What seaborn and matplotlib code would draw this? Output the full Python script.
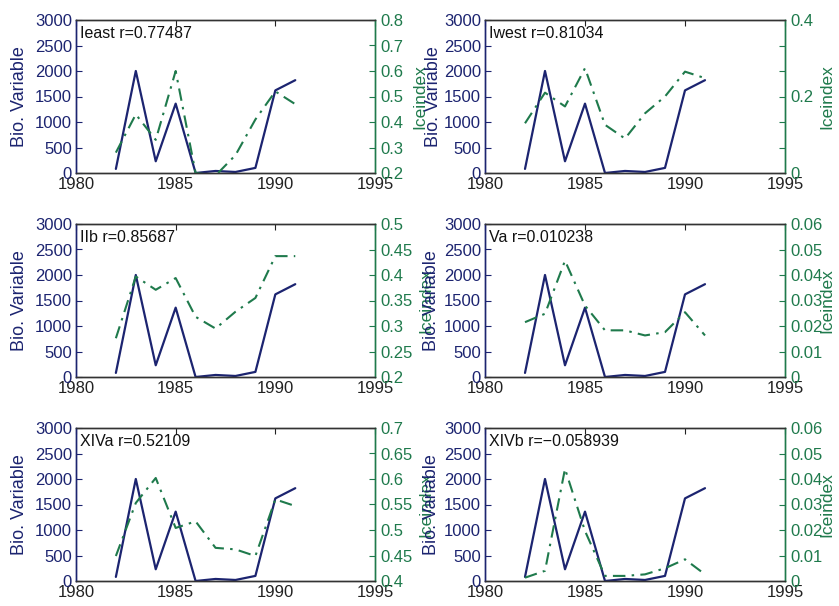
# plot.py
# Six plotyy-style panels: Bio. Variable (left axis) vs Iceindex (right axis)
import matplotlib
matplotlib.use('Agg')  # no display
import matplotlib.pyplot as plt
import seaborn as sns

# ── Data ──────────────────────────────────────────────────────
YEARS = [1982, 1983, 1984, 1985, 1986, 1987, 1988, 1989, 1990, 1991]
BIO = [80, 2000, 230, 1360, 0, 40, 20, 100, 1620, 1820]

ICE_IEAST = [0.28, 0.43, 0.33, 0.60, 0.20, 0.19, 0.27, 0.41, 0.52, 0.47]
ICE_IWEST = [0.13, 0.21, 0.174, 0.274, 0.126, 0.09, 0.156, 0.20, 0.265, 0.248]
ICE_IIB = [0.276, 0.397, 0.371, 0.394, 0.318, 0.295, 0.328, 0.355, 0.437, 0.437]
ICE_VA = [0.0215, 0.0248, 0.0456, 0.028, 0.0183, 0.0183, 0.0163, 0.0176, 0.0254, 0.0163]
ICE_XIVA = [0.449, 0.553, 0.602, 0.504, 0.517, 0.465, 0.462, 0.449, 0.56, 0.547]
ICE_XIVB = [0.0013, 0.004, 0.044, 0.0196, 0.002, 0.002, 0.0026, 0.005, 0.0085, 0.0026]

NAMES = ["Ieast", "Iwest", "IIb", "Va", "XIVa", "XIVb"]
R_TEXT = ["0.77487", "0.81034", "0.85687", "0.010238", "0.52109", "\u22120.058939"]
ICE_SERIES = [ICE_IEAST, ICE_IWEST, ICE_IIB, ICE_VA, ICE_XIVA, ICE_XIVB]
ICE_LIMS = [(0.2, 0.8), (0.0, 0.4), (0.2, 0.5), (0.0, 0.06), (0.4, 0.7), (0.0, 0.06)]
ICE_TICKLABELS = [
    ["0.2", "0.3", "0.4", "0.5", "0.6", "0.7", "0.8"],
    ["0", "", "", "0.2", "", "", "0.4"],
    ["0.2", "0.25", "0.3", "0.35", "0.4", "0.45", "0.5"],
    ["0", "0.01", "0.02", "0.03", "0.04", "0.05", "0.06"],
    ["0.4", "0.45", "0.5", "0.55", "0.6", "0.65", "0.7"],
    ["0", "0.01", "0.02", "0.03", "0.04", "0.05", "0.06"],
]
BIO_TICKS = [0, 500, 1000, 1500, 2000, 2500, 3000]
X_TICKS = [1980, 1985, 1990, 1995]

# ── Style ─────────────────────────────────────────────────────
NAVY = "#1c2470"
GREEN = "#1f7a4c"
W, H = 839, 606

sns.set_style("white")
plt.rcParams['font.family'] = ['Liberation Sans', 'DejaVu Sans']
plt.rcParams['axes.unicode_minus'] = True

fig = plt.figure(figsize=(W / 100, H / 100), dpi=100)

col_x = [76, 485]
col_w = [299, 300]
row_top = [20, 224, 428]
ax_h = 153
# label positions (axes coords): left label -> right edge, right label -> left edge
ice_label_x = [1.124, 1.113, 1.144, 1.113, 1.144, 1.113]
bio_label_x = [-0.16, -0.143, -0.16, -0.15, -0.16, -0.15]

for i, name in enumerate(NAMES):
    r, c = divmod(i, 2)
    rect = [col_x[c] / W, 1 - (row_top[r] + ax_h) / H, col_w[c] / W, ax_h / H]
    ax = fig.add_axes(rect)
    ax2 = ax.twinx()

    sns.lineplot(x=YEARS, y=BIO, ax=ax, color=NAVY, linewidth=1.6)
    sns.lineplot(x=YEARS, y=ICE_SERIES[i], ax=ax2, color=GREEN,
                 linewidth=1.5, linestyle=(0, (6, 3, 1.2, 3)))

    ax.set_xlim(1980, 1995)
    ax.set_ylim(0, 3000)
    ax.set_xticks(X_TICKS)
    ax.set_yticks(BIO_TICKS)
    lo, hi = ICE_LIMS[i]
    ax2.set_ylim(lo, hi)
    ax2.set_yticks([lo + k * (hi - lo) / 6 for k in range(7)])
    ax2.set_yticklabels(ICE_TICKLABELS[i])

    ax.tick_params(axis='x', direction='in', top=True, length=4, width=0.8,
                   labelsize=12, pad=3, colors='#222222')
    ax.tick_params(axis='y', direction='in', left=True, length=4, width=0.8,
                   labelsize=12, pad=3, colors=NAVY)
    ax2.tick_params(axis='y', direction='in', right=True, length=4, width=0.8,
                    labelsize=12, pad=4, colors=GREEN)

    for s in ['top', 'bottom']:
        ax.spines[s].set_color('#333333')
        ax2.spines[s].set_color('#333333')
    ax.spines['left'].set_color(NAVY)
    ax2.spines['left'].set_color(NAVY)
    ax2.spines['right'].set_color(GREEN)
    ax.spines['right'].set_color(GREEN)
    for a in (ax, ax2):
        for s in a.spines.values():
            s.set_linewidth(1.0)

    ax.set_ylabel("Bio. Variable", color=NAVY, fontsize=13)
    ax.yaxis.set_label_coords(bio_label_x[i], 0.5)
    ax2.set_ylabel("Iceindex", color=GREEN, fontsize=12.5)
    ax2.yaxis.set_label_coords(ice_label_x[i], 0.5)
    ax.set_xlabel("")

    ax.text(0.013, 0.91, f"{name} r={R_TEXT[i]}", transform=ax.transAxes,
            fontsize=11.5, color='#111111', va='center', ha='left')

fig.savefig("out.png", dpi=100)
